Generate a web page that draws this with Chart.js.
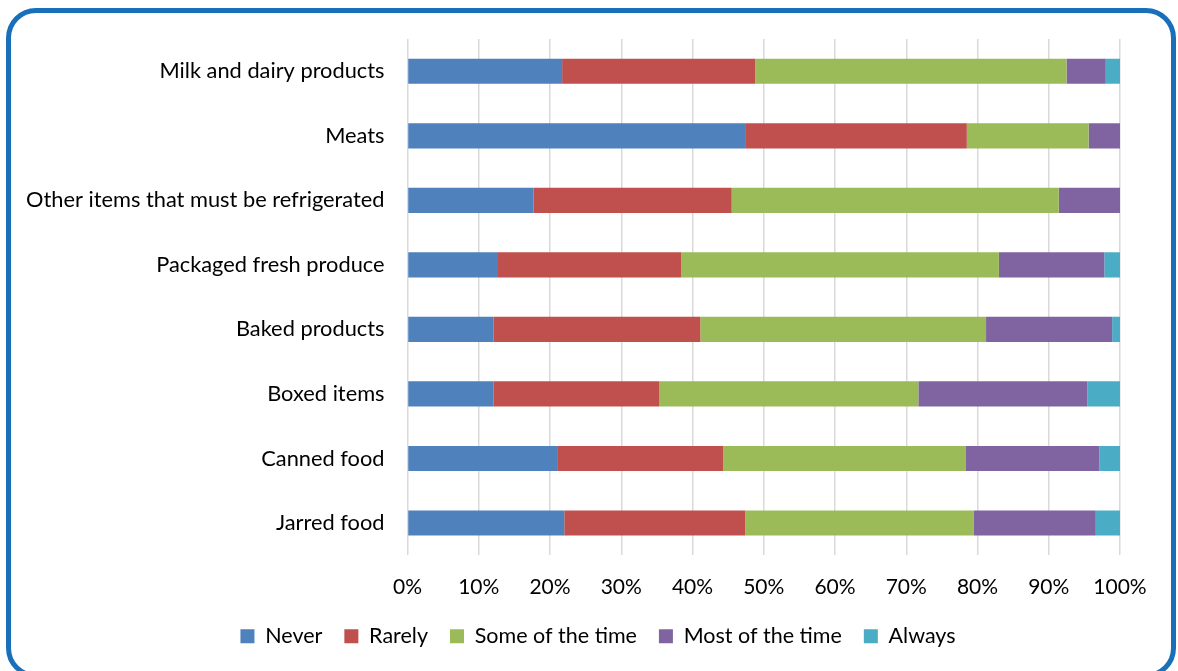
<!DOCTYPE html>
<html>
<head>
<meta charset="utf-8">
<script src="https://cdn.jsdelivr.net/npm/chart.js@4.4.1/dist/chart.umd.min.js"></script>
<style>
  html, body { margin: 0; padding: 0; background: #fff; }
  #wrap { position: relative; width: 1178px; height: 671px; }
  #frame {
    position: absolute; left: 6px; top: 8px; width: 1160px; height: 660px;
    border: 5px solid #1a6fba; border-radius: 30px; pointer-events: none;
  }
</style>
</head>
<body>
<div id="wrap">
  <canvas id="chart" width="1178" height="671"></canvas>
  <div id="frame"></div>
</div>
<script>
// categories, top to bottom
const categories = [
  'Milk and dairy products',
  'Meats',
  'Other items that must be refrigerated',
  'Packaged fresh produce',
  'Baked products',
  'Boxed items',
  'Canned food',
  'Jarred food'
];

// share of respondents (%) per answer
const never     = [21.7, 47.5, 17.7, 12.7, 12.1, 12.1, 21.0, 22.0];
const rarely    = [27.1, 31.0, 27.8, 25.7, 29.0, 23.2, 23.3, 25.4];
const someTime  = [43.7, 17.1, 45.9, 44.6, 40.1, 36.4, 34.0, 32.1];
const mostTime  = [5.5,  4.4,  8.6,  14.8, 17.7, 23.7, 18.8, 17.1];
const always    = [2.0,  0,    0,    2.2,  1.1,  4.6,  2.9,  3.4];

const xTicks = [0, 10, 20, 30, 40, 50, 60, 70, 80, 90, 100];

const FONT = 'Lato, "Noto Sans", sans-serif';

const series = [
  { label: 'Never', data: never, color: '#4f81bd' },
  { label: 'Rarely', data: rarely, color: '#c0504d' },
  { label: 'Some of the time', data: someTime, color: '#9bbb59' },
  { label: 'Most of the time', data: mostTime, color: '#8064a2' },
  { label: 'Always', data: always, color: '#4bacc6' }
];

// nudge the legend row to the right, like the original
const legendShift = {
  id: 'legendShift',
  afterLayout(chart) {
    chart.legend.left += 38;
    chart.legend.right += 38;
  }
};

new Chart(document.getElementById('chart'), {
  type: 'bar',
  data: {
    labels: categories,
    datasets: series.map(s => ({
      label: s.label,
      data: s.data,
      backgroundColor: s.color,
      borderWidth: 0,
      barPercentage: 0.39,
      categoryPercentage: 1
    }))
  },
  options: {
    indexAxis: 'y',
    responsive: false,
    animation: false,
    layout: { padding: { top: 39, right: 58, bottom: 14, left: 0 } },
    scales: {
      x: {
        stacked: true,
        min: 0,
        max: 100,
        afterBuildTicks: (scale) => { scale.ticks = xTicks.map(v => ({ value: v })); },
        // labels overhang into the gap above the legend
        afterFit: (scale) => { scale.height -= 15; },
        grid: { color: '#d9d9d9', lineWidth: 1.5, drawTicks: false },
        border: { display: false },
        ticks: {
          color: '#000',
          padding: 19,
          font: { family: FONT, size: 21 },
          callback: (v) => v + '%'
        }
      },
      y: {
        stacked: true,
        afterFit: (scale) => { scale.width = 407.5; },
        grid: { display: false, drawTicks: false },
        border: { display: false },
        ticks: {
          color: '#000',
          padding: 23,
          font: { family: FONT, size: 21.8 }
        }
      }
    },
    plugins: {
      legend: {
        position: 'bottom',
        labels: {
          color: '#000',
          boxWidth: 14,
          boxHeight: 14,
          padding: 22,
          font: { family: FONT, size: 21.5 }
        }
      },
      tooltip: { enabled: false }
    }
  },
  plugins: [legendShift]
});
</script>
</body>
</html>
